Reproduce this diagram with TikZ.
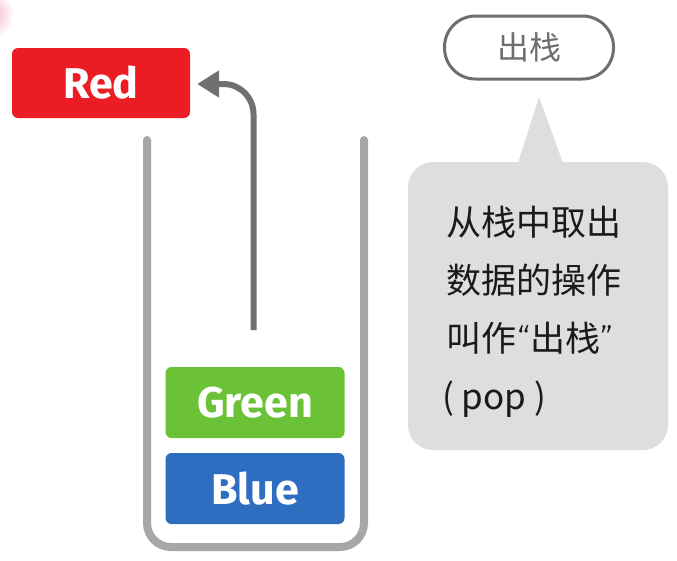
\documentclass[tikz,border=0pt]{standalone}
\usepackage{fontspec}
\setmainfont{Fira Sans}
\newfontfamily\cjk{Noto Sans CJK SC}
\newfontfamily\quotefont{Fira Sans Light}
\usetikzlibrary{arrows.meta}
\definecolor{redc}{HTML}{EC1C24}
\definecolor{greenc}{HTML}{6CC237}
\definecolor{bluec}{HTML}{2D6EC1}
\definecolor{stackgray}{HTML}{A7A7A7}
\definecolor{arrowgray}{HTML}{707070}
\definecolor{pillgray}{HTML}{6E6E6E}
\definecolor{calloutgray}{HTML}{DEDEE0}
\definecolor{pinkc}{HTML}{F4A9BC}
\definecolor{textc}{HTML}{1A1A1A}
\begin{document}
\begin{tikzpicture}[x=1pt,y=-1pt,
  databox/.style={rounded corners=6pt, minimum width=179pt, minimum height=71pt,
    inner sep=0pt, text=white, font=\fontsize{43}{43}\selectfont\bfseries},
  stackwall/.style={line width=8pt, draw=stackgray, line cap=round, rounded corners=24pt},
  poparrow/.style={line width=6pt, draw=arrowgray, rounded corners=30pt,
    -{Triangle[length=22pt,width=26pt]}},
  pill/.style={draw=pillgray, line width=3pt, rounded corners=31pt,
    minimum width=169pt, minimum height=63pt, text=pillgray,
    font=\cjk\fontsize{32}{32}\selectfont},
  callout/.style={fill=calloutgray, rounded corners=25pt, minimum width=260pt,
    minimum height=288pt, inner sep=0pt},
  calltext/.style={anchor=base west, inner sep=0pt, text=textc,
    font=\cjk\fontsize{35}{35}\selectfont}]
\useasboundingbox (0,0) rectangle (677,560);
\fill[white] (0,0) rectangle (677,560);
% pink blob at top-left
\shade[inner color=pinkc, outer color=white] (-12,14) circle (26);

% stack container
\coordinate (stl) at (147,140);
\coordinate (sbl) at (147,547);
\coordinate (sbr) at (364,547);
\coordinate (str) at (364,140);
\draw[stackwall] (stl) -- (sbl) -- (sbr) -- (str);

% data boxes
\node[databox, fill=redc, minimum width=178pt, minimum height=70pt] (red) at (101,83) {Red};
\node[databox, fill=greenc] (green) at (255,402.5) {Green};
\node[databox, fill=bluec] (blue) at (255,488.5) {Blue};

% pop arrow
\coordinate (astart) at (253.5,330);
\coordinate (aturn) at (253.5,84);
\draw[poparrow] (astart) -- (aturn) -- ([xshift=7pt,yshift=-1pt]red.east);

% pill label
\node[pill] (pill) at (529,47.5) {出栈};

% callout
\node[callout] (call) at (538,306) {};
\coordinate (tipl) at (518,163);
\coordinate (tipr) at (563,163);
\coordinate (apex) at (539,97);
\fill[calloutgray] (tipl) -- (apex) -- (tipr) -- cycle;

\node[calltext] (l1) at (446,235) {从栈中取出};
\node[calltext] (l2) at (446,293) {数据的操作};
\node[calltext] (l3) at (446,351) {叫作{\quotefont\kern1pt“}出栈{\quotefont”}};
\node[calltext] (l4) at (442,409) {( pop )};
\end{tikzpicture}
\end{document}
